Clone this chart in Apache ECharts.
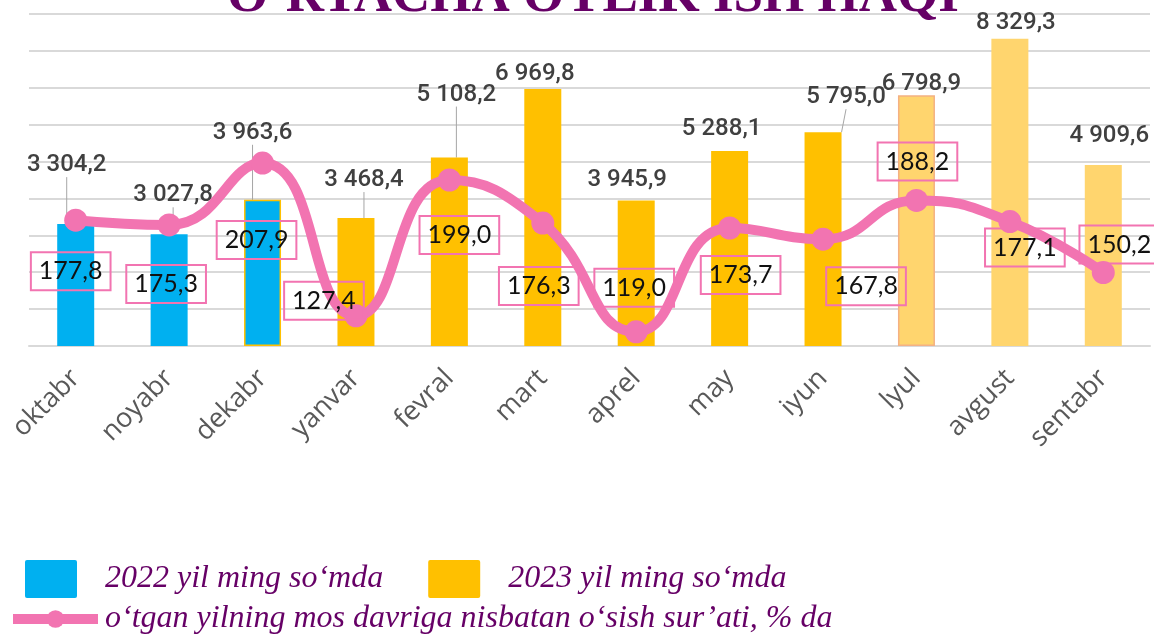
<!DOCTYPE html>
<html>
<head>
<meta charset="utf-8">
<title>O‘rtacha oylik ish haqi</title>
<script src="https://cdn.jsdelivr.net/npm/echarts@6/dist/echarts.min.js"></script>
<style>
    * { padding: 0; margin: 0; }
    #main { width: 1154px; height: 636px; position: absolute; background: #ffffff; }
</style>
</head>
<body>
<div id="main"></div>
<script type="text/javascript">
var months = ['oktabr', 'noyabr', 'dekabr', 'yanvar', 'fevral', 'mart', 'aprel', 'may', 'iyun', 'lyul', 'avgust', 'sentabr'];
var wage2022 = [3304.2, 3027.8, 3963.6, null, null, null, null, null, null, null, null, null];
var wage2023 = [null, null, null, 3468.4, 5108.2, 6969.8, 3945.9, 5288.1, 5795.0, 6798.9, 8329.3, 4909.6];
var growth = [177.8, 175.3, 207.9, 127.4, 199.0, 176.3, 119.0, 173.7, 167.8, 188.2, 177.1, 150.2];
var lightMonths = ['lyul', 'avgust', 'sentabr'];

var names = ['2022 yil ming so‘mda', '2023 yil ming so‘mda', 'o‘tgan yilning mos davriga nisbatan o‘sish sur’ati, % da'];

// where the labels sit, in px from the bar top / from the point
var barLabelShift = [[-9, -59], [4, -39], [-10, -67], [8, -38], [7, -63], [-8, -15], [-9, -20], [-8, -22], [23, -35], [5, -11], [6, -16], [6, -29]];
var barLeader = [true, true, true, true, true, false, false, false, true, false, false, false];
var lineLabelShift = [[-5, 51], [-3, 59], [-6, 77], [-32, -15], [10, 55], [-4, 63], [-2, -44], [11, 47], [43, 47], [1, -39], [15, 26], [16, -28]];

function fmt(v) {
    var s = v.toFixed(1).split('.');
    var n = s[0].replace(/\B(?=(\d{3})+(?!\d))/g, ' ');
    return n + ',' + s[1];
}

function barItems(values) {
    return values.map(function (v, i) {
        if (v === null) return null;
        var item = { value: v, labelLine: { show: barLeader[i] } };
        if (lightMonths.indexOf(months[i]) >= 0) {
            item.itemStyle = { color: '#FFD56E' };
        }
        if (months[i] === 'lyul') item.itemStyle.borderColor = '#F4B183', item.itemStyle.borderWidth = 1.5;
        if (months[i] === 'dekabr') item.itemStyle = { borderColor: '#FFC000', borderWidth: 1.5 };
        return item;
    });
}

var barLabel = {
    show: true,
    position: ['50%', 0],
    align: 'center',
    verticalAlign: 'middle',
    fontFamily: 'Roboto',
    fontWeight: 500,
    fontSize: 24,
    color: '#404040',
    formatter: function (p) { return fmt(p.value); }
};
var barLine = { lineStyle: { color: '#A6A6A6', width: 1 } };
function barLayout(p) {
    var s = barLabelShift[p.dataIndex];
    return { dx: s[0], dy: s[1] };
}

var myChart = echarts.init(document.getElementById('main'));
var option = {
    backgroundColor: '#ffffff',
    animation: false,
    title: {
        text: 'O‘RTACHA OYLIK ISH HAQI',
        left: 222,
        top: -34,
        textStyle: { fontFamily: 'Liberation Serif', fontWeight: 'bold', fontSize: 53, color: '#660066' }
    },
    legend: [{
        data: [names[0], names[1]],
        left: 20,
        top: 555,
        icon: 'path://M2,0 L50,0 Q52,0 52,2 L52,36 Q52,38 50,38 L2,38 Q0,38 0,36 L0,2 Q0,0 2,0 Z',
        itemWidth: 52,
        itemHeight: 38,
        itemGap: 45,
        textStyle: { fontFamily: 'Liberation Serif', fontStyle: 'italic', fontSize: 32, color: '#660066', padding: [0, 0, 0, 23] }
    }, {
        data: [names[2]],
        left: 3,
        top: 598,
        itemWidth: 85,
        itemHeight: 22,
        lineStyle: { width: 10 },
        textStyle: { fontFamily: 'Liberation Serif', fontStyle: 'italic', fontSize: 32, color: '#660066', padding: [0, 0, 0, 2] }
    }],
    grid: { left: 29, right: 4, top: 14, bottom: 290 },
    xAxis: {
        type: 'category',
        data: months,
        axisLine: { lineStyle: { color: '#D9D9D9', width: 2 } },
        axisTick: { show: false },
        axisLabel: { rotate: 45, margin: 28, fontFamily: 'Open Sans', fontSize: 27, color: '#595959' }
    },
    yAxis: [{
        type: 'value',
        min: 0,
        max: 9000,
        interval: 1000,
        axisLabel: { show: false },
        axisLine: { show: false },
        axisTick: { show: false },
        splitLine: { lineStyle: { color: '#D9D9D9', width: 2 } }
    }, {
        type: 'value',
        min: 111.5,
        max: 286.5,
        show: false,
        splitLine: { show: false }
    }],
    series: [{
        name: names[0],
        type: 'bar',
        data: barItems(wage2022),
        barWidth: 37,
        barGap: '-100%',
        itemStyle: { color: '#00B0F0' },
        label: barLabel,
        labelLine: barLine,
        labelLayout: barLayout
    }, {
        name: names[1],
        type: 'bar',
        data: barItems(wage2023),
        barWidth: 37,
        barGap: '-100%',
        itemStyle: { color: '#FFC000' },
        label: barLabel,
        labelLine: barLine,
        labelLayout: barLayout
    }, {
        name: names[2],
        type: 'line',
        yAxisIndex: 1,
        data: growth,
        smooth: 0.5,
        symbol: 'circle',
        symbolSize: 23,
        z: 5,
        lineStyle: { color: '#F274B1', width: 10 },
        itemStyle: { color: '#F274B1' },
        label: {
            show: true,
            position: 'inside',
            fontFamily: 'Lato',
            fontSize: 25,
            lineHeight: 26,
            color: '#111111',
            borderColor: '#F274B1',
            borderWidth: 2,
            padding: [6, 8],
            formatter: function (p) { return fmt(p.value); }
        },
        labelLayout: function (p) {
            var s = lineLabelShift[p.dataIndex];
            return { dx: s[0], dy: s[1] };
        }
    }]
};
myChart.setOption(option);
</script>
</body>
</html>
